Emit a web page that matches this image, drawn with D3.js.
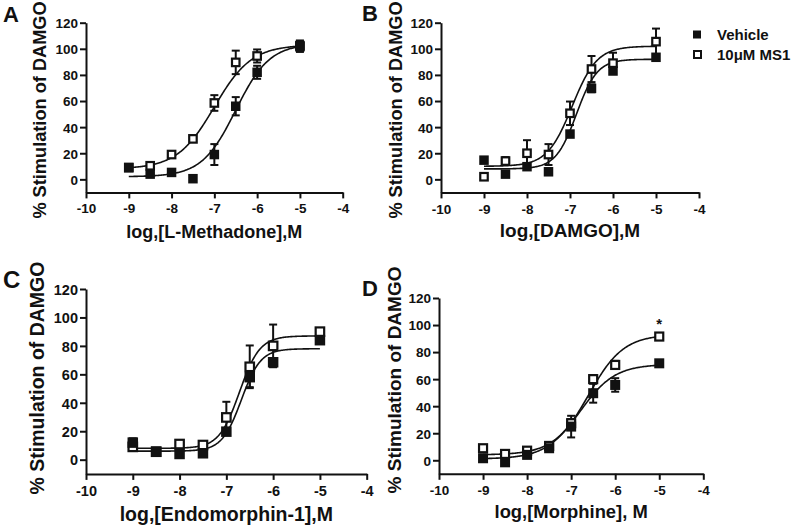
<!DOCTYPE html>
<html><head><meta charset="utf-8">
<script src="https://cdn.jsdelivr.net/npm/d3@7"></script>
<style>body{margin:0;background:#fff}svg{display:block}text{font-family:"Liberation Sans",Arial,sans-serif;font-weight:bold;fill:#111}</style>
</head><body>
<script>
// ---- data ----
const doses = [-9, -8.5, -8, -7.5, -7, -6.5, -6, -5];
const xTicks = [-10, -9, -8, -7, -6, -5, -4];
const yTicks = [0, 20, 40, 60, 80, 100, 120];
const panelLetters = ["A", "B", "C", "D"];
const xTitles = ["log,[L-Methadone],M", "log,[DAMGO],M", "log,[Endomorphin-1],M", "log,[Morphine], M"];
const yTitle = "% Stimulation of DAMGO";
const seriesNames = ["Vehicle", "10\u03bcM MS1"];

// Panel A: L-Methadone
const aVehicle    = [9, 4, 5.3, 0.5, 19, 56, 82, 101.6];
const aVehicleErr = [1, 1, 1, 1, 8, 7, 5, 4];
const aMS1        = [9, 10.4, 19, 31, 58.5, 89.6, 94.5, 102.4];
const aMS1Err     = [1, 1, 1, 1, 6, 9, 5, 4];
// Panel B: DAMGO
const bVehicle    = [14.7, 4, 9.7, 5.8, 34.7, 69.7, 83, 93.5];
const bVehicleErr = [1, 1, 1, 1, 2, 3, 2, 1];
const bMS1        = [2, 14, 20, 19, 50.6, 84.5, 89, 105.5];
const bMS1Err     = [2, 3, 10, 8, 9, 10, 8, 10];
// Panel C: Endomorphin-1
const cVehicle    = [12, 5.6, 4, 4.5, 19.7, 58, 68.5, 84];
const cVehicleErr = [3, 1, 1, 1, 2, 7, 3, 2];
const cMS1        = [9, 5.6, 11, 10.3, 29.7, 65.3, 80, 90];
const cMS1Err     = [2, 1, 1, 1, 11, 15, 15, 2];
// Panel D: Morphine
const dVehicle    = [1.5, -1.5, 4, 8.9, 24.9, 49.6, 55.7, 71.7];
const dVehicleErr = [1, 1, 1, 1, 8, 7, 5, 2];
const dMS1        = [8.9, 4.7, 7.1, 10.6, 27.4, 60, 70.5, 91.5];
const dMS1Err     = [1, 1, 1, 1, 3, 3, 3, 2];

// fitted 4-parameter logistic curves: [bottom, top, logEC50, hill]
const aVehicleFit = [2, 104, -6.5, 1.1];
const aMS1Fit     = [8, 103, -7.0, 1.0];
const bVehicleFit = [8, 92, -6.85, 1.8];
const bMS1Fit     = [10, 102, -6.95, 1.5];
const cVehicleFit = [6, 78, -6.68, 2.1];
const cMS1Fit     = [8, 87, -6.72, 2.0];
const dVehicleFit = [1, 71, -6.8, 1.1];
const dMS1Fit     = [4, 93, -6.6, 1.1];

const significance = [{panel: 3, dose: -5, value: 100, label: "*"}];

// ---- layout ----
const W = 800, H = 526;
const panels = [
  {x0: 86,  x1: 342.7, yTop: 22.7, yBot: 192.4, veh: aVehicle, vehErr: aVehicleErr, ms: aMS1, msErr: aMS1Err, vehFit: aVehicleFit, msFit: aMS1Fit,
   tick: 13.5, title: 18, ytitle: 18.2, letter: 22, mk: 9.5, letterX: 3, letterY: 22, ytX: 46, ytY: 110, tickBase: 21, titleBase: 237.5},
  {x0: 441, x1: 699, yTop: 22.7, yBot: 192.4, veh: bVehicle, vehErr: bVehicleErr, ms: bMS1, msErr: bMS1Err, vehFit: bVehicleFit, msFit: bMS1Fit,
   tick: 13.5, title: 19, ytitle: 18.2, letter: 22, mk: 9.5, letterX: 362, letterY: 21, ytX: 402, ytY: 110, tickBase: 21.5, titleBase: 237.3},
  {x0: 86,  x1: 366.7, yTop: 289, yBot: 473.9, veh: cVehicle, vehErr: cVehicleErr, ms: cMS1, msErr: cMS1Err, vehFit: cVehicleFit, msFit: cMS1Fit,
   tick: 14.5, title: 19.5, ytitle: 19.5, letter: 24, mk: 10.5, letterX: 3, letterY: 288, ytX: 44, ytY: 378, tickBase: 22, titleBase: 521},
  {x0: 439, x1: 703.3, yTop: 298, yBot: 473.8, veh: dVehicle, vehErr: dVehicleErr, ms: dMS1, msErr: dMS1Err, vehFit: dVehicleFit, msFit: dMS1Fit,
   tick: 13.5, title: 18.4, ytitle: 19, letter: 22, mk: 10, letterX: 362, letterY: 296, ytX: 401, ytY: 380, tickBase: 21, titleBase: 518}
];

const svg = d3.select("body").append("svg").attr("width", W).attr("height", H);
const logistic = (p, x) => p[0] + (p[1] - p[0]) / (1 + Math.pow(10, (p[2] - x) * p[3]));
const curveXs = d3.range(-9, -4.999, 0.02);

panels.forEach((p, i) => {
  const x = d3.scaleLinear().domain([-10, -4]).range([p.x0, p.x1]);
  const y = d3.scaleLinear().domain([-10, 120]).range([p.yBot, p.yTop]);
  const g = svg.append("g");

  // axes
  const xa = g.append("g").attr("transform", `translate(0,${p.yBot})`)
    .call(d3.axisBottom(x).tickValues(xTicks).tickFormat(d => String(d)).tickSizeInner(6).tickSizeOuter(0).tickPadding(3));
  const ya = g.append("g").attr("transform", `translate(${p.x0},0)`)
    .call(d3.axisLeft(y).tickValues(yTicks).tickFormat(d => String(d)).tickSizeInner(6).tickSizeOuter(0).tickPadding(2));
  [xa, ya].forEach(a => {
    a.selectAll("path.domain").attr("stroke", "#111").attr("stroke-width", 2);
    a.selectAll(".tick line").attr("stroke", "#111").attr("stroke-width", 2);
    a.selectAll(".tick text").attr("font-size", p.tick).attr("font-family", "Liberation Sans, Arial, sans-serif").attr("font-weight", "bold").attr("fill", "#111");
  });
  xa.selectAll(".tick text").attr("dy", null).attr("y", p.tickBase);
  ya.selectAll(".tick text").attr("dy", "0.36em");

  // titles
  g.append("text").attr("x", (p.x0 + p.x1) / 2).attr("y", p.titleBase).attr("text-anchor", "middle")
    .attr("font-size", p.title).text(xTitles[i]);
  g.append("text").attr("transform", `translate(${p.ytX},${p.ytY}) rotate(-90)`).attr("text-anchor", "middle")
    .attr("font-size", p.ytitle).text(yTitle);
  g.append("text").attr("x", p.letterX).attr("y", p.letterY).attr("font-size", p.letter).text(panelLetters[i]);

  // error bars
  const cap = 4;
  const drawErr = (vals, errs) => {
    doses.forEach((d, k) => {
      const cx = x(d), yt = y(vals[k] + errs[k]), yb = y(vals[k] - errs[k]);
      g.append("line").attr("x1", cx).attr("x2", cx).attr("y1", yt).attr("y2", yb).attr("stroke", "#111").attr("stroke-width", 2);
      g.append("line").attr("x1", cx - cap).attr("x2", cx + cap).attr("y1", yt).attr("y2", yt).attr("stroke", "#111").attr("stroke-width", 2);
      g.append("line").attr("x1", cx - cap).attr("x2", cx + cap).attr("y1", yb).attr("y2", yb).attr("stroke", "#111").attr("stroke-width", 2);
    });
  };
  drawErr(p.ms, p.msErr);
  drawErr(p.veh, p.vehErr);

  // fitted curves
  [p.msFit, p.vehFit].forEach(fit => {
    g.append("path").datum(curveXs.map(c => ({c, v: logistic(fit, c)})))
      .attr("d", d3.line().x(d => x(d.c)).y(d => y(d.v)))
      .attr("fill", "none").attr("stroke", "#111").attr("stroke-width", 1.6);
  });

  // markers
  const s = p.mk;
  g.selectAll(null).data(doses.map((d, k) => ({d, v: p.ms[k]}))).enter().append("rect")
    .attr("x", d => x(d.d) - s / 2 + 1).attr("y", d => y(d.v) - s / 2 + 1)
    .attr("width", s - 2).attr("height", s - 2).attr("fill", "#fff").attr("stroke", "#111").attr("stroke-width", 2.2);
  g.selectAll(null).data(doses.map((d, k) => ({d, v: p.veh[k]}))).enter().append("rect")
    .attr("x", d => x(d.d) - s / 2).attr("y", d => y(d.v) - s / 2)
    .attr("width", s).attr("height", s).attr("fill", "#111");

  significance.filter(sg => sg.panel === i).forEach(sg => {
    g.append("text").attr("x", x(sg.dose)).attr("y", y(sg.value) + 4).attr("text-anchor", "middle")
      .attr("font-size", 15).attr("font-weight", "normal").attr("fill", "#333").text(sg.label);
  });
});

// legend (beside panel B)
const leg = svg.append("g");
seriesNames.forEach((name, k) => {
  const cy = k === 0 ? 34.5 : 54;
  if (k === 0) leg.append("rect").attr("x", 693).attr("y", cy - 4).attr("width", 8).attr("height", 8).attr("fill", "#111");
  else leg.append("rect").attr("x", 694).attr("y", cy - 3).attr("width", 7).attr("height", 7).attr("fill", "#fff").attr("stroke", "#111").attr("stroke-width", 2);
  leg.append("text").attr("x", 717).attr("y", cy + 5.5).attr("font-size", 15).text(name);
});
</script>
</body></html>
